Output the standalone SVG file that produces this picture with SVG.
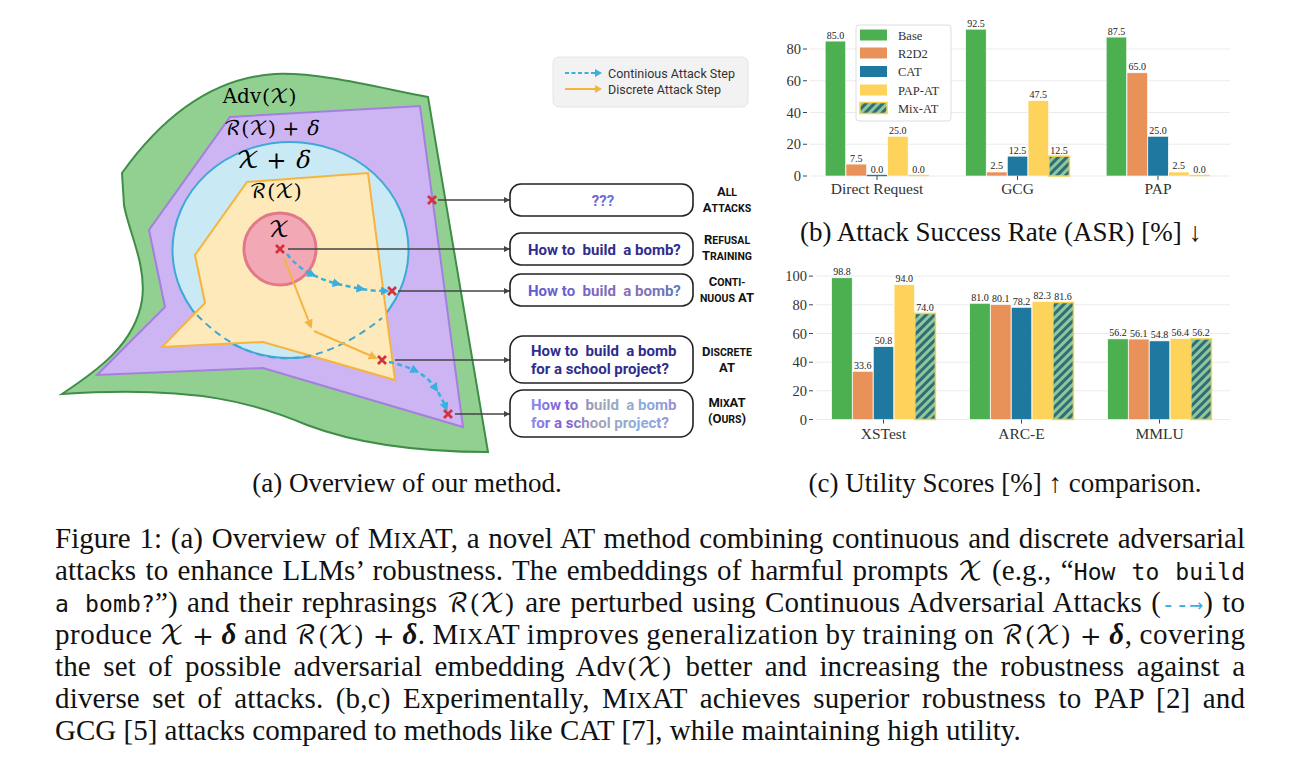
<svg xmlns="http://www.w3.org/2000/svg" width="1300" height="779" viewBox="0 0 1300 779">
<style>
.cap{font-family:"Liberation Serif","Times New Roman",serif;font-size:29px;fill:#111}
.sub{font-family:"Liberation Serif","Times New Roman",serif;font-size:27px;fill:#111;text-anchor:middle}
.m{font-family:"DejaVu Math TeX Gyre","DejaVu Serif",serif}
.cm{font-family:"DejaVu Math TeX Gyre","DejaVu Serif",serif;font-size:26px}
.mono{font-family:"DejaVu Sans Mono","Liberation Mono",monospace;font-size:23px}
.tick{font-family:"Liberation Serif",serif;font-size:14.5px;fill:#333;text-anchor:end}
.val{font-family:"Liberation Serif",serif;font-size:10px;fill:#222;text-anchor:middle}
.xl{font-family:"Liberation Serif",serif;font-size:15.5px;fill:#333;text-anchor:middle}
.lg{font-family:"Liberation Serif",serif;font-size:12.5px;fill:#333}
.grid{stroke:#ebebeb;stroke-width:1}
.tk{stroke:#444;stroke-width:1}
.box{fill:#fff;stroke:#222;stroke-width:1.6}
.bt{font-family:Roboto,"Liberation Sans",sans-serif;font-weight:700;font-size:15px;white-space:pre}
.lab{font-family:Roboto,"Liberation Sans",sans-serif;font-weight:700;font-size:13px;fill:#111;text-anchor:middle}
.sc{font-size:10.5px}
.base{fill:#4caf50}
.r2{fill:#e8925a}
.cat{fill:#1f78a0}
.pap{fill:#fdd35c}
.mix{fill:url(#hatch);stroke:#f6d04d;stroke-width:1.5}
.bar{stroke:#fff;stroke-width:0.6}
.xm{stroke:#d3323a;stroke-width:2.8;stroke-linecap:butt}
.con{stroke:#444;stroke-width:1.3;fill:none;marker-end:url(#ag)}
.cdash{stroke:#3ab0dc;stroke-width:2.5;fill:none;stroke-dasharray:5 3.5;marker-mid:url(#ac);marker-end:url(#ac)}
.ostep{stroke:#f5b440;stroke-width:2;fill:none;marker-end:url(#ao)}
</style>
<defs>
<pattern id="hatch" patternUnits="userSpaceOnUse" width="6" height="6" patternTransform="rotate(45)">
<rect width="6" height="6" fill="#8fc79a"/>
<rect width="3" height="6" fill="#2f6d78"/>
</pattern>
<marker id="ag" viewBox="0 0 10 10" refX="10" refY="5" markerWidth="6" markerHeight="6" markerUnits="userSpaceOnUse" orient="auto"><path d="M0,0 L10,5 L0,10 z" fill="#444"/></marker>
<marker id="ac" viewBox="0 0 10 10" refX="6" refY="5" markerWidth="9" markerHeight="9" markerUnits="userSpaceOnUse" orient="auto"><path d="M0,0 L10,5 L0,10 z" fill="#3ab0dc"/></marker>
<marker id="ao" viewBox="0 0 10 10" refX="8" refY="5" markerWidth="9" markerHeight="9" markerUnits="userSpaceOnUse" orient="auto"><path d="M0,0 L10,5 L0,10 z" fill="#f5b440"/></marker>
<linearGradient id="g3" gradientUnits="userSpaceOnUse" x1="528" y1="0" x2="680" y2="0"><stop offset="0" stop-color="#5b5bd6"/><stop offset="0.4" stop-color="#7866c2"/><stop offset="0.7" stop-color="#8a6fb8"/><stop offset="1" stop-color="#5a7bbd"/></linearGradient>
<linearGradient id="g5" gradientUnits="userSpaceOnUse" x1="528" y1="0" x2="680" y2="0"><stop offset="0" stop-color="#8e8cf0"/><stop offset="0.25" stop-color="#7b5fd0"/><stop offset="0.45" stop-color="#a3a4b4"/><stop offset="0.75" stop-color="#8aaedf"/><stop offset="1" stop-color="#9a8ad8"/></linearGradient>
<linearGradient id="g1" gradientUnits="userSpaceOnUse" x1="585" y1="0" x2="622" y2="0"><stop offset="0" stop-color="#7a55d0"/><stop offset="1" stop-color="#5d80d6"/></linearGradient>
</defs>

<g id="adv-region">
<path d="M 122 173 C 160 120, 210 78, 275 74 C 320 72, 380 88, 428 97 L 488 452 C 420 452, 360 445, 307 425 C 260 405, 200 385, 62 394 C 95 372, 135 345, 142 300 C 147 265, 128 230, 124 205 Z" fill="#92d092" stroke="#3f8e48" stroke-width="2"/>
<text class="m" x="260" y="103" font-size="20" text-anchor="middle">Adv(𝒳)</text>
</g>
<g id="rx-delta-region">
<polygon points="230,117 420,106 463,427 263,368 97,375 165,307 149,230" fill="#cdb4f3" stroke="#a57fe0" stroke-width="2"/>
<text class="m" x="271" y="135" font-size="20" text-anchor="middle">ℛ(𝒳) + <tspan font-style="italic">δ</tspan></text>
</g>
<g id="x-delta-region">
<ellipse cx="290.5" cy="250" rx="118" ry="108" fill="#c9e9f5" stroke="#3ea8d6" stroke-width="2"/>
<text class="m" x="273" y="168" font-size="24" text-anchor="middle">𝒳 + <tspan font-style="italic">δ</tspan></text>
</g>
<g id="rx-region">
<polygon points="247,182 368,173 395,380 263,342 162,347 205,303 195,255" fill="#fde9b9" stroke="#f5b440" stroke-width="2"/>
<text class="m" x="276" y="198" font-size="20" text-anchor="middle">ℛ(𝒳)</text>
</g>
<g id="x-region">
<circle cx="280" cy="249" r="36" fill="#f2a9b5" stroke="#e2798b" stroke-width="3"/>
<text class="m" x="279" y="237" font-size="22" text-anchor="middle">𝒳</text>
</g>

<g id="connectors">
<path d="M 197 315 Q 280 400 382 318" fill="none" stroke="#3aa7d4" stroke-width="2" stroke-dasharray="7 5"/>
<path class="cdash" d="M 287 254 Q 298 268 313 275 Q 326 281 338 284 Q 350 287 362 289 Q 374 291 386 291"/>
<path class="cdash" d="M 389 362 Q 403 365 416 371 Q 428 377 436 389 Q 442 398 446 408"/>
<path class="ostep" d="M 284 258 L 311 327"/>
<path class="ostep" d="M 314 331 L 376 358"/>
<line class="con" x1="438" y1="200" x2="510" y2="200"/>
<line class="con" x1="288" y1="249" x2="510" y2="249"/>
<line class="con" x1="398" y1="291" x2="510" y2="291"/>
<line class="con" x1="395" y1="360" x2="510" y2="360"/>
<line class="con" x1="455" y1="414" x2="510" y2="414"/>
</g>

<g id="markers">
<path class="xm" d="M428,196 L436,204 M436,196 L428,204"/>
<path class="xm" d="M276,245 L284,253 M284,245 L276,253"/>
<path class="xm" d="M388,287 L396,295 M396,287 L388,295"/>
<path class="xm" d="M378,356 L386,364 M386,356 L378,364"/>
<path class="xm" d="M444,410 L452,418 M452,410 L444,418"/>
</g>

<g id="legend-a">
<rect x="553" y="57" width="195" height="50" rx="6" fill="#f2f2f2" stroke="#e4e4e4"/>
<line x1="565" y1="73" x2="596" y2="73" stroke="#3ab0dc" stroke-width="2" stroke-dasharray="4 2.5"/>
<path d="M595,69 L602,73 L595,77 z" fill="#3ab0dc"/>
<line x1="565" y1="89" x2="596" y2="89" stroke="#f5b440" stroke-width="2"/>
<path d="M595,85 L602,89 L595,93 z" fill="#f5b440"/>
<text x="608" y="78" font-family="Roboto,'Liberation Sans',sans-serif" font-size="12.5" fill="#333">Continious Attack Step</text>
<text x="608" y="94" font-family="Roboto,'Liberation Sans',sans-serif" font-size="12.5" fill="#333">Discrete Attack Step</text>
</g>

<g id="box-all">
<rect class="box" x="510" y="184" width="183" height="32" rx="11"/>
<text class="bt" x="603" y="206" text-anchor="middle" fill="url(#g1)" font-size="16">???</text>
<text class="lab" x="727" y="196">A<tspan class="sc">LL</tspan></text>
<text class="lab" x="727" y="212">A<tspan class="sc">TTACKS</tspan></text>
</g>
<g id="box-refusal">
<rect class="box" x="510" y="233" width="183" height="32" rx="11"/>
<text class="bt" x="528" y="255" fill="#2e2d8e">How to  build  a bomb?</text>
<text class="lab" x="727" y="244">R<tspan class="sc">EFUSAL</tspan></text>
<text class="lab" x="727" y="260">T<tspan class="sc">RAINING</tspan></text>
</g>
<g id="box-continuous">
<rect class="box" x="510" y="274" width="183" height="32" rx="11"/>
<text class="bt" x="528" y="296" fill="url(#g3)">How to  build  a bomb?</text>
<text class="lab" x="727" y="286">C<tspan class="sc">ONTI-</tspan></text>
<text class="lab" x="727" y="302"><tspan class="sc">NUOUS</tspan> AT</text>
</g>
<g id="box-discrete">
<rect class="box" x="510" y="336" width="183" height="47" rx="13"/>
<text class="bt" x="531" y="356" fill="#2e2d8e">How to  build  a bomb</text>
<text class="bt" x="531" y="374" fill="#2e2d8e">for a school project?</text>
<text class="lab" x="727" y="356">D<tspan class="sc">ISCRETE</tspan></text>
<text class="lab" x="727" y="372">AT</text>
</g>
<g id="box-mixat">
<rect class="box" x="510" y="390" width="183" height="47" rx="13"/>
<text class="bt" x="531" y="410" fill="url(#g5)">How to  build  a bomb</text>
<text class="bt" x="531" y="428" fill="url(#g5)">for a school project?</text>
<text class="lab" x="727" y="407">M<tspan class="sc">IX</tspan>AT</text>
<text class="lab" x="727" y="423">(O<tspan class="sc">URS</tspan>)</text>
</g>

<text class="sub" x="407" y="492">(a) Overview of our method.</text>

<g id="chart-b">
<line class="grid" x1="810" y1="176" x2="1230" y2="176"/>
<line class="grid" x1="810" y1="144.25" x2="1230" y2="144.25"/>
<line class="grid" x1="810" y1="112.5" x2="1230" y2="112.5"/>
<line class="grid" x1="810" y1="80.75" x2="1230" y2="80.75"/>
<line class="grid" x1="810" y1="49" x2="1230" y2="49"/>
<line class="tk" x1="803" y1="176" x2="807" y2="176"/>
<line class="tk" x1="803" y1="144.25" x2="807" y2="144.25"/>
<line class="tk" x1="803" y1="112.5" x2="807" y2="112.5"/>
<line class="tk" x1="803" y1="80.75" x2="807" y2="80.75"/>
<line class="tk" x1="803" y1="49" x2="807" y2="49"/>
<text class="tick" x="801" y="181">0</text>
<text class="tick" x="801" y="149">20</text>
<text class="tick" x="801" y="117.5">40</text>
<text class="tick" x="801" y="86">60</text>
<text class="tick" x="801" y="54">80</text>
<rect class="bar base" x="825.2" y="41.1" width="20.5" height="134.9"/>
<rect class="bar r2" x="846" y="164.1" width="20.5" height="11.9"/>
<rect class="cat" x="866.8" y="174.8" width="20.5" height="1.4"/>
<rect class="bar pap" x="887.6" y="136.3" width="20.5" height="39.7"/>
<rect class="pap" x="908.4" y="174.8" width="20.5" height="1.4"/>
<rect class="bar base" x="965.7" y="29.2" width="20.5" height="146.8"/>
<rect class="bar r2" x="986.5" y="172" width="20.5" height="4"/>
<rect class="bar cat" x="1007.3" y="156.2" width="20.5" height="19.8"/>
<rect class="bar pap" x="1028.1" y="100.6" width="20.5" height="75.4"/>
<rect class="mix" x="1048.9" y="156.2" width="20.5" height="19.8"/>
<rect class="bar base" x="1106.2" y="37.1" width="20.5" height="138.9"/>
<rect class="bar r2" x="1127" y="72.8" width="20.5" height="103.2"/>
<rect class="bar cat" x="1147.8" y="136.3" width="20.5" height="39.7"/>
<rect class="bar pap" x="1168.6" y="172" width="20.5" height="4"/>
<rect class="pap" x="1189.4" y="174.8" width="20.5" height="1.4"/>
<line class="tk" x1="877" y1="176" x2="877" y2="180"/>
<line class="tk" x1="1017.5" y1="176" x2="1017.5" y2="180"/>
<line class="tk" x1="1158" y1="176" x2="1158" y2="180"/>
<text class="val" x="835.5" y="38.5">85.0</text>
<text class="val" x="856.2" y="161.5">7.5</text>
<text class="val" x="877" y="172.5">0.0</text>
<text class="val" x="897.8" y="133.7">25.0</text>
<text class="val" x="918.6" y="172.5">0.0</text>
<text class="val" x="976" y="26.6">92.5</text>
<text class="val" x="996.8" y="169.4">2.5</text>
<text class="val" x="1017.5" y="153.6">12.5</text>
<text class="val" x="1038.3" y="98">47.5</text>
<text class="val" x="1059.1" y="153.6">12.5</text>
<text class="val" x="1116.5" y="34.5">87.5</text>
<text class="val" x="1137.2" y="70.2">65.0</text>
<text class="val" x="1158" y="133.7">25.0</text>
<text class="val" x="1178.8" y="169.4">2.5</text>
<text class="val" x="1199.6" y="172.5">0.0</text>
<text class="xl" x="877" y="194">Direct Request</text>
<text class="xl" x="1017.5" y="194">GCG</text>
<text class="xl" x="1158" y="194">PAP</text>
<g id="legend-b">
<rect x="856" y="25" width="95" height="96" rx="3" fill="#fff" fill-opacity="0.85" stroke="#ddd"/>
<rect class="base" x="860" y="29.5" width="27" height="11"/>
<rect class="r2" x="860" y="47.5" width="27" height="11"/>
<rect class="cat" x="860" y="66" width="27" height="11"/>
<rect class="pap" x="860" y="84.5" width="27" height="11"/>
<rect class="mix" x="860" y="102.5" width="27" height="11"/>
<text class="lg" x="898" y="39.5">Base</text>
<text class="lg" x="898" y="57.5">R2D2</text>
<text class="lg" x="898" y="76">CAT</text>
<text class="lg" x="898" y="94.5">PAP-AT</text>
<text class="lg" x="898" y="112.5">Mix-AT</text>
</g>
</g>
<text class="sub" x="1001" y="241">(b) Attack Success Rate (ASR) [%] ↓</text>

<g id="chart-c">
<line class="grid" x1="816" y1="419.5" x2="1230" y2="419.5"/>
<line class="grid" x1="816" y1="390.8" x2="1230" y2="390.8"/>
<line class="grid" x1="816" y1="362.2" x2="1230" y2="362.2"/>
<line class="grid" x1="816" y1="333.5" x2="1230" y2="333.5"/>
<line class="grid" x1="816" y1="304.8" x2="1230" y2="304.8"/>
<line class="grid" x1="816" y1="276.1" x2="1230" y2="276.1"/>
<line class="tk" x1="809" y1="419.5" x2="813" y2="419.5"/>
<line class="tk" x1="809" y1="390.8" x2="813" y2="390.8"/>
<line class="tk" x1="809" y1="362.2" x2="813" y2="362.2"/>
<line class="tk" x1="809" y1="333.5" x2="813" y2="333.5"/>
<line class="tk" x1="809" y1="304.8" x2="813" y2="304.8"/>
<line class="tk" x1="809" y1="276.1" x2="813" y2="276.1"/>
<text class="tick" x="807" y="424.5">0</text>
<text class="tick" x="807" y="395.8">20</text>
<text class="tick" x="807" y="367.2">40</text>
<text class="tick" x="807" y="338.5">60</text>
<text class="tick" x="807" y="309.8">80</text>
<text class="tick" x="807" y="281.1">100</text>
<rect class="bar base" x="831.7" y="277.8" width="20.5" height="141.7"/>
<rect class="bar r2" x="852.5" y="371.3" width="20.5" height="48.2"/>
<rect class="bar cat" x="873.3" y="346.7" width="20.5" height="72.8"/>
<rect class="bar pap" x="894.1" y="284.7" width="20.5" height="134.8"/>
<rect class="mix" x="914.9" y="313.4" width="20.5" height="106.1"/>
<rect class="bar base" x="969.7" y="303.3" width="20.5" height="116.2"/>
<rect class="bar r2" x="990.5" y="304.6" width="20.5" height="114.9"/>
<rect class="bar cat" x="1011.3" y="307.4" width="20.5" height="112.1"/>
<rect class="bar pap" x="1032.1" y="301.5" width="20.5" height="118"/>
<rect class="mix" x="1052.9" y="302.5" width="20.5" height="117"/>
<rect class="bar base" x="1107.7" y="338.9" width="20.5" height="80.6"/>
<rect class="bar r2" x="1128.5" y="339.1" width="20.5" height="80.4"/>
<rect class="bar cat" x="1149.3" y="340.9" width="20.5" height="78.6"/>
<rect class="bar pap" x="1170.1" y="338.6" width="20.5" height="80.9"/>
<rect class="mix" x="1190.9" y="338.9" width="20.5" height="80.6"/>
<line class="tk" x1="883.5" y1="419.5" x2="883.5" y2="423.5"/>
<line class="tk" x1="1021.5" y1="419.5" x2="1021.5" y2="423.5"/>
<line class="tk" x1="1159.5" y1="419.5" x2="1159.5" y2="423.5"/>
<text class="val" x="842" y="275.2">98.8</text>
<text class="val" x="862.8" y="368.7">33.6</text>
<text class="val" x="883.5" y="344.1">50.8</text>
<text class="val" x="904.3" y="282.1">94.0</text>
<text class="val" x="925.1" y="310.8">74.0</text>
<text class="val" x="980" y="300.7">81.0</text>
<text class="val" x="1000.8" y="302">80.1</text>
<text class="val" x="1021.5" y="304.8">78.2</text>
<text class="val" x="1042.3" y="298.9">82.3</text>
<text class="val" x="1063.1" y="299.9">81.6</text>
<text class="val" x="1118" y="336.3">56.2</text>
<text class="val" x="1138.8" y="336.5">56.1</text>
<text class="val" x="1159.5" y="338.3">54.8</text>
<text class="val" x="1180.3" y="336">56.4</text>
<text class="val" x="1201.1" y="336.3">56.2</text>
<text class="xl" x="883.5" y="439">XSTest</text>
<text class="xl" x="1021.5" y="439">ARC-E</text>
<text class="xl" x="1159.5" y="439">MMLU</text>
</g>
<text class="sub" x="1005" y="492">(c) Utility Scores [%] ↑ comparison.</text>

<g id="caption">
<text class="cap" x="55" y="548" word-spacing="1.5" textLength="1190" lengthAdjust="spacing">Figure 1: (a) Overview of M<tspan font-size="22.5">IX</tspan>AT, a novel AT method combining continuous and discrete adversarial</text>
<text class="cap" x="55" y="580" word-spacing="2" textLength="1190" lengthAdjust="spacing">attacks to enhance LLMs’ robustness. The embeddings of harmful prompts <tspan class="cm">𝒳</tspan> (e.g., “<tspan class="mono">How to build</tspan></text>
<text class="cap" x="55" y="612" word-spacing="2" textLength="1190" lengthAdjust="spacing"><tspan class="mono">a bomb?</tspan>”) and their rephrasings <tspan class="cm">ℛ(𝒳)</tspan> are perturbed using Continuous Adversarial Attacks (<tspan class="mono" fill="#3ab0dc" font-size="18">--→</tspan>) to</text>
<text class="cap" x="55" y="644" word-spacing="-1" textLength="1190" lengthAdjust="spacing">produce <tspan class="cm">𝒳 + </tspan><tspan font-weight="bold" font-style="italic">δ</tspan> and <tspan class="cm">ℛ(𝒳) + </tspan><tspan font-weight="bold" font-style="italic">δ</tspan>. M<tspan font-size="22.5">IX</tspan>AT improves generalization by training on <tspan class="cm">ℛ(𝒳) + </tspan><tspan font-weight="bold" font-style="italic">δ</tspan>, covering</text>
<text class="cap" x="55" y="676" word-spacing="5" textLength="1190" lengthAdjust="spacing">the set of possible adversarial embedding Adv<tspan class="cm">(𝒳)</tspan> better and increasing the robustness against a</text>
<text class="cap" x="55" y="708" word-spacing="5" textLength="1190" lengthAdjust="spacing">diverse set of attacks. (b,c) Experimentally, M<tspan font-size="22.5">IX</tspan>AT achieves superior robustness to PAP [2] and</text>
<text class="cap" x="55" y="740">GCG [5] attacks compared to methods like CAT [7], while maintaining high utility.</text>
</g>
</svg>
